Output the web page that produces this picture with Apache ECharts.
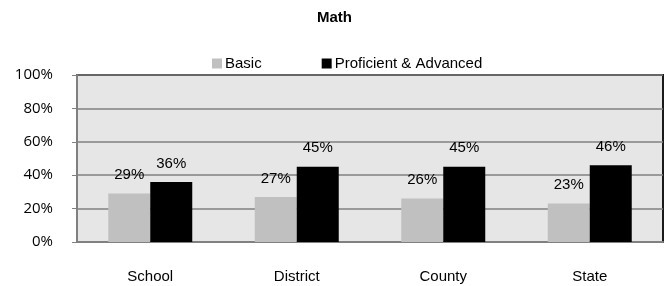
<!DOCTYPE html>
<html><head><meta charset="utf-8">
<script src="https://cdn.jsdelivr.net/npm/echarts@6/dist/echarts.min.js"></script>
<style>html,body{margin:0;padding:0;background:#fff}#c{width:668px;height:286px}</style>
</head><body><div id="c"></div>
<script>
const categories = ['School', 'District', 'County', 'State'];
const basic = [29, 27, 26, 23];
const proficient = [36, 45, 45, 46];
const yTicks = [0, 20, 40, 60, 80, 100];

const FONT = '"Liberation Sans", Arial, sans-serif';
const chart = echarts.init(document.getElementById('c'));
const lbl = {show: true, position: 'top', distance: 11, formatter: p => p.value + '%', fontFamily: FONT, fontSize: 15, color: '#000'};
chart.setOption({
  animation: false,
  title: {text: 'Math', left: 312, top: 5, textStyle: {fontFamily: FONT, fontSize: 15, fontWeight: 'bold', color: '#000'}},
  legend: {left: 207, top: 51, itemWidth: 10, itemHeight: 10, itemGap: 60, icon: 'rect',
    textStyle: {fontFamily: FONT, fontSize: 15, color: '#000', padding: [0,0,0,-2]},
    data: ['Basic', 'Proficient & Advanced']},
  grid: {left: 77, right: 5, top: 75, bottom: 44, show: true, backgroundColor: '#e6e6e6', borderColor: '#1a1a1a', borderWidth: 2},
  xAxis: {type: 'category', data: categories,
    axisLine: {lineStyle: {color: '#808080', width: 2}},
    axisTick: {length: 5, lineStyle: {color: '#808080'}},
    axisLabel: {margin: 27, fontFamily: FONT, fontSize: 15, color: '#000'}},
  yAxis: {type: 'value', min: 0, max: 100, interval: 20,
    axisLine: {show: true, lineStyle: {color: '#808080', width: 2}},
    axisTick: {show: true, length: 5, lineStyle: {color: '#808080'}},
    splitLine: {lineStyle: {color: '#808080', width: 1.5}},
    axisLabel: {margin: 24, fontFamily: '"Open Sans", "Liberation Sans", sans-serif', fontSize: 15, color: '#000',
      formatter: v => yTicks.includes(v) ? v + '%' : ''}},
  series: [
    {name: 'Basic', type: 'bar', data: basic, barWidth: 42, barGap: '0%', itemStyle: {color: '#c0c0c0'}, label: lbl},
    {name: 'Proficient & Advanced', type: 'bar', data: proficient, barWidth: 42, barGap: '0%', itemStyle: {color: '#000'}, label: lbl}
  ]
});
</script></body></html>
